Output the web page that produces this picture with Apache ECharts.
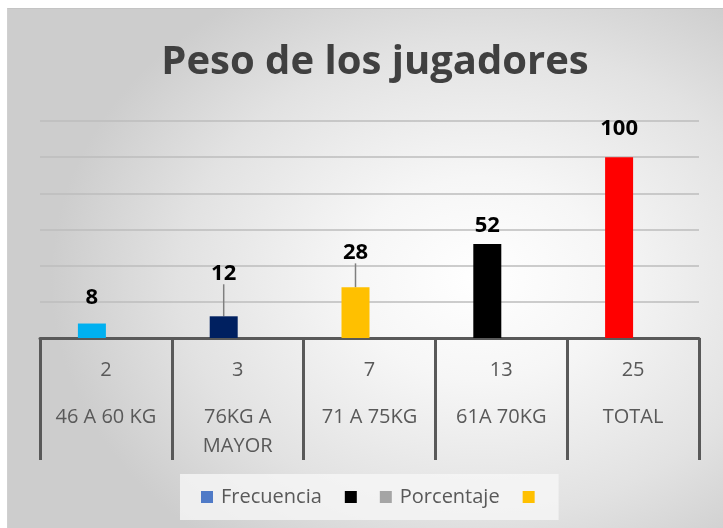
<!DOCTYPE html>
<html>
<head>
<meta charset="utf-8">
<script src="https://cdn.jsdelivr.net/npm/echarts@6/dist/echarts.min.js"></script>
<style>
  html, body { margin: 0; padding: 0; background: #ffffff; }
  #wrap { position: relative; width: 723px; height: 528px; overflow: hidden; }
  #bg { position: absolute; left: 7px; top: 8px; right: 0; bottom: 0;
        border-top: 1px solid #c4c4c4; border-left: 1px solid #d0d0d0;
        background: radial-gradient(ellipse 60% 65% at 66% 52%, #ffffff 0%, #f6f6f6 30%, #e2e2e2 70%, #cdcdcd 100%); }
  #chart { position: absolute; left: 0; top: 0; width: 723px; height: 528px; }
</style>
</head>
<body>
<div id="wrap"><div id="bg"></div><div id="chart"></div></div>
<script>
// ---- data ----
const categories = ['46 A 60 KG', '76KG A MAYOR', '71 A 75KG', '61A 70KG', 'TOTAL'];
const frecuencia = [2, 3, 7, 13, 25];
const porcentaje = [8, 12, 28, 52, 100];
const barColors = ['#00B0F0', '#002060', '#FFC000', '#000000', '#FF0000'];
const yTicks = [0, 20, 40, 60, 80, 100, 120];
const legendNames = ['Frecuencia', ' ', 'Porcentaje', '  '];
const legendColors = ['#4F7AC7', '#000000', '#A5A5A5', '#FFC000'];

// ---- chart ----
const FONT = '"Open Sans", "Noto Sans", sans-serif';
const chart = echarts.init(document.getElementById('chart'), null, { renderer: 'canvas' });

const labelShift = { 0: -8, 1: -25, 2: -17, 4: -10 };
const showLeader = { 1: true, 2: true };

const option = {
  backgroundColor: 'transparent',
  animation: false,
  title: {
    text: 'Peso de los jugadores',
    left: 370,
    top: 38,
    textAlign: 'center',
    textStyle: { fontFamily: FONT, fontWeight: 'bold', fontSize: 40, color: '#404040' }
  },
  legend: {
    left: 180,
    top: 474,
    padding: [13, 24, 13, 21],
    backgroundColor: 'rgba(246,246,246,0.8)',
    itemWidth: 12,
    itemHeight: 12,
    itemGap: 23,
    data: legendNames.map((n, i) => ({
      name: n, icon: 'rect', itemStyle: { color: legendColors[i] },
      textStyle: n.trim() ? { padding: [0, 0, 0, 3] } : { padding: 0 }
    })),
    formatter: n => n.trim() ? n : '',
    textStyle: { fontFamily: FONT, fontSize: 20, color: '#595959' }
  },
  grid: { left: 40, right: 24, top: 121, bottom: 190, containLabel: false },
  xAxis: {
    type: 'category',
    data: categories,
    axisLine: { show: true, lineStyle: { color: '#595959', width: 3 } },
    axisTick: { show: true, length: 122, inside: false, lineStyle: { color: '#595959', width: 3 } },
    axisLabel: {
      margin: 0,
      interval: 0,
      formatter: (v, i) => {
        const words = v.split(' ');
        let lines = [v];
        if (v.length > 11) { lines = [words.slice(0, 2).join(' '), words.slice(2).join(' ')]; }
        return '{n|' + frecuencia[i] + '}\n' + lines.map(l => '{c|' + l + '}').join('\n');
      },
      rich: {
        n: { fontFamily: FONT, fontSize: 20, color: '#595959', lineHeight: 65, align: 'center' },
        c: { fontFamily: FONT, fontSize: 20, color: '#595959', lineHeight: 29, align: 'center' }
      }
    }
  },
  yAxis: {
    type: 'value',
    min: yTicks[0],
    max: yTicks[yTicks.length - 1],
    interval: yTicks[1] - yTicks[0],
    axisLabel: { show: false },
    axisLine: { show: false },
    axisTick: { show: false },
    splitLine: { show: true, lineStyle: { color: '#bdbdbd', width: 1.5 } }
  },
  series: [
    { name: 'Frecuencia', type: 'line', data: [], showSymbol: false },
    { name: ' ', type: 'line', data: [], showSymbol: false },
    {
      name: 'Porcentaje',
      type: 'bar',
      barWidth: 28,
      barGap: '0%',
      data: porcentaje.map((v, i) => ({
        value: v,
        itemStyle: { color: barColors[i] },
        labelLine: { show: !!showLeader[i], lineStyle: { color: '#7f7f7f', width: 1.5 } }
      })),
      label: {
        show: true,
        position: 'top',
        distance: 7,
        fontFamily: FONT,
        fontWeight: 'bold',
        fontSize: 22,
        color: '#000000'
      },
      labelLayout: p => ({ dy: labelShift[p.dataIndex] || 0 })
    },
    { name: '  ', type: 'bar', barWidth: 28, barGap: '0%', data: [] }
  ]
};
chart.setOption(option);
</script>
</body>
</html>
